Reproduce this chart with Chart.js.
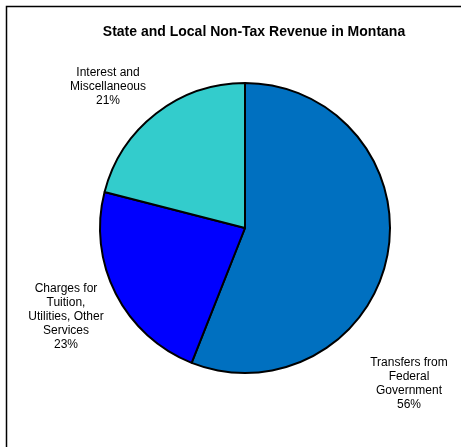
<!DOCTYPE html>
<html lang="en">
<head>
  <meta charset="UTF-8" />
  <title>State and Local Non-Tax Revenue in Montana</title>
  <script src="https://cdn.jsdelivr.net/npm/chart.js"></script>
  <style>
    html, body {
      margin: 0;
      padding: 0;
      background: #fff;
    }
    #wrap {
      width: 461px;
      height: 447px;
    }
  </style>
</head>
<body>
  <div id="wrap"><canvas id="pieChart"></canvas></div>

  <script>
    // revenue shares, in percent
    const categories = [
      ['Transfers from', 'Federal', 'Government'],
      ['Charges for', 'Tuition,', 'Utilities, Other', 'Services'],
      ['Interest and', 'Miscellaneous']
    ];
    const shares = [56, 23, 21];
    const sliceColors = ['#0070C0', '#0000FF', '#33CCCC'];

    // where each label block sits, relative to the pie centre
    const labelOffsets = [
      { dx: 164, dy: 156 },
      { dx: -179, dy: 89 },
      { dx: -137, dy: -141 }
    ];

    const textPlugin = {
      id: 'textPlugin',
      beforeDraw(chart) {
        const ctx = chart.ctx;
        ctx.save();
        ctx.fillStyle = '#fff';
        ctx.fillRect(0, 0, chart.width, chart.height);
        // frame on the left and top
        ctx.strokeStyle = '#000';
        ctx.lineWidth = 1.5;
        ctx.beginPath();
        ctx.moveTo(6.5, chart.height);
        ctx.lineTo(6.5, 6.5);
        ctx.lineTo(chart.width, 6.5);
        ctx.stroke();
        ctx.restore();
      },
      afterDraw(chart) {
        const ctx = chart.ctx;
        const arc = chart.getDatasetMeta(0).data[0];
        const cx = arc.x, cy = arc.y;
        ctx.save();
        ctx.fillStyle = '#000';
        ctx.textAlign = 'center';
        ctx.textBaseline = 'middle';
        ctx.font = 'bold 14px "Liberation Sans", Arial, sans-serif';
        ctx.fillText('State and Local Non-Tax Revenue in Montana', 254, 32);

        ctx.font = '12px "Liberation Sans", Arial, sans-serif';
        const lh = 14;
        categories.forEach((lines, i) => {
          const all = lines.concat([shares[i] + '%']);
          const x = cx + labelOffsets[i].dx;
          const y0 = cy + labelOffsets[i].dy - (all.length - 1) * lh / 2;
          all.forEach((t, j) => ctx.fillText(t, x, y0 + j * lh));
        });
        ctx.restore();
      }
    };

    new Chart(document.getElementById('pieChart'), {
      type: 'pie',
      data: {
        labels: categories.map(c => c.join(' ')),
        datasets: [{
          data: shares,
          backgroundColor: sliceColors,
          borderColor: '#000',
          borderWidth: 2
        }]
      },
      options: {
        responsive: true,
        maintainAspectRatio: false,
        animation: false,
        layout: {
          padding: { left: 99, top: 82, right: 70, bottom: 73 }
        },
        plugins: {
          legend: { display: false },
          tooltip: { enabled: false }
        }
      },
      plugins: [textPlugin]
    });
  </script>
</body>
</html>
